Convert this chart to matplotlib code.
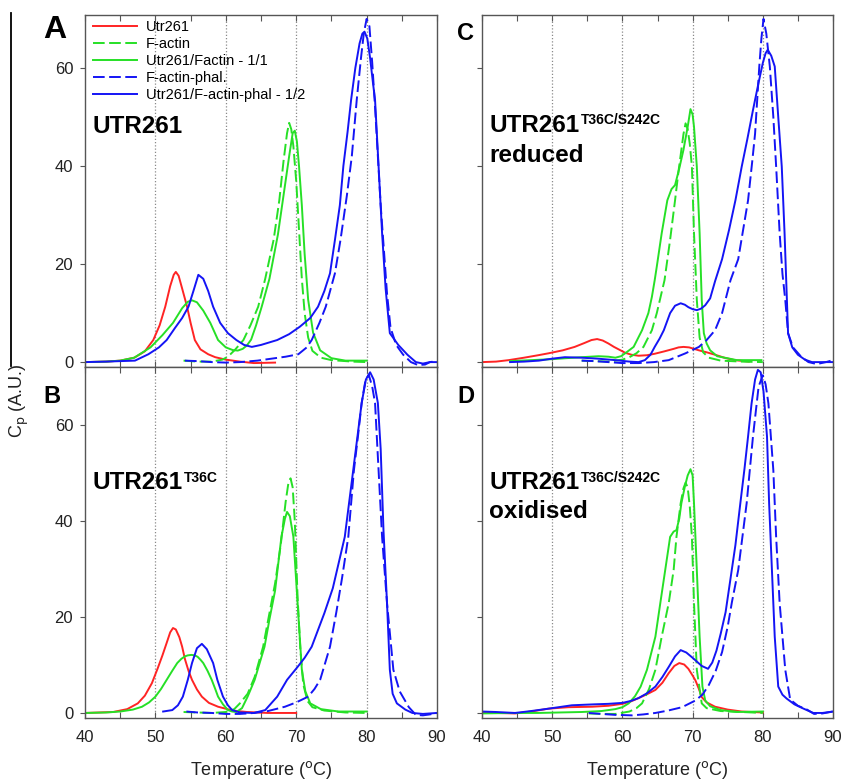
import matplotlib
matplotlib.use("Agg")
import matplotlib.pyplot as plt
from matplotlib.lines import Line2D

plt.rcParams['font.family'] = ['Liberation Sans', 'DejaVu Sans']

# ---------------- data (Temperature in °C, Cp in A.U.) ----------------
series_labels = ["Utr261", "F-actin", "Utr261/Factin - 1/1", "F-actin-phal.", "Utr261/F-actin-phal - 1/2"]

# Panel A : UTR261
A_utr_x = [40, 43, 45, 47, 48.5, 49.7, 50.6, 51.4, 52.1, 52.6, 52.9, 53.3, 53.8, 54.5, 55.0, 55.6, 56.4, 57.5, 58.5, 60, 62, 64, 67]
A_utr_y = [0, 0.1, 0.3, 0.9, 2.2, 4.5, 7.5, 11.3, 15.5, 17.8, 18.4, 17.6, 15, 11.3, 8, 4.5, 2.6, 1.6, 1.0, 0.5, 0.1, -0.2, -0.1]
A_fact_x = [54, 56, 58, 59.5, 60.3, 61.3, 62.5, 63.5, 64.6, 65.6, 66.8, 67.6, 68.2, 68.7, 69.0, 69.3, 69.6, 70.0, 70.4, 70.8, 71.2, 71.7, 72.3, 73.5, 75, 78, 80]
A_fact_y = [0.3, 0.1, 0.1, 0.5, 1.1, 2.5, 4.5, 7.5, 11.3, 17, 25, 33, 41, 46.7, 48.8, 47.5, 44, 37, 27, 17, 10, 5, 2.3, 0.9, 0.4, 0.1, 0]
A_mix_x = [40, 43, 45, 47, 49.3, 51, 52.5, 53.8, 54.6, 55.2, 55.9, 56.8, 57.8, 58.9, 60, 61, 61.7, 62.4, 63.0, 63.6, 64.3, 65.1, 66.2, 67.4, 68.3, 69.0, 69.5, 69.8, 70.1, 70.4, 70.8, 71.2, 71.7, 72.4, 73.4, 75, 77, 80]
A_mix_y = [0, 0.1, 0.3, 0.9, 3, 5.5, 8, 11, 12.3, 12.6, 12.2, 10.5, 8, 4.5, 3, 2.45, 2.35, 2.7, 3.4, 4.6, 7.5, 11.3, 17, 26, 35, 42, 46.7, 47.2, 45, 40, 32, 22, 12.7, 6, 2.4, 0.8, 0.3, 0.3]
A_phal_x = [54.2, 56, 58, 60, 62, 64.5, 66.5, 68.5, 70.3, 71.5, 72.2, 73.3, 74.2, 75.5, 76.3, 77.2, 77.9, 78.6, 79.2, 79.6, 80.0, 80.4, 80.8, 81.2, 81.6, 82.0, 82.4, 82.9, 83.4, 84.2, 85.2, 86.3, 87.3, 88.3, 89, 90]
A_phal_y = [0.3, 0.2, 0, -0.1, 0, 0.3, 0.7, 1.1, 1.6, 3, 4.5, 8, 11.3, 18.1, 25, 34, 42, 53.5, 62, 67, 70, 68.5, 61, 52, 42, 32, 24, 14, 7, 3.5, 1.5, 0, -0.6, -0.5, 0, 0.2]
A_mixphal_x = [40, 43, 45, 47.1, 49, 50.5, 51.6, 52.8, 53.8, 54.7, 55.4, 56.1, 56.8, 57.5, 58.2, 59.2, 60.3, 61.5, 62.6, 63.7, 65, 67.3, 69, 70.5, 72, 73.1, 74, 74.8, 75.5, 76.2, 76.7, 77.3, 77.8, 78.4, 79.0, 79.4, 79.7, 80.1, 80.5, 80.9, 81.2, 81.7, 82.2, 82.7, 83.3, 84.5, 85.8, 87, 88, 89, 90]
A_mixphal_y = [0, 0.1, 0.2, 0.3, 1.6, 3, 4.5, 7, 9, 11.3, 14.5, 17.8, 17, 14.5, 11.3, 8, 5.9, 4.5, 3.5, 3.1, 3.5, 4.5, 5.7, 7.2, 9, 11.3, 14.5, 18.1, 24.9, 32, 40, 47, 53.5, 60, 65, 67, 67.4, 66, 62, 57, 53.5, 40, 26.3, 15, 5.9, 3.5, 1.5, 0, -0.3, 0, 0]

# Panel B : UTR261 T36C
B_utr_x = [40, 44, 46, 47.5, 48.5, 49.5, 50.3, 51.0, 51.6, 52.1, 52.5, 52.9, 53.4, 53.8, 54.2, 54.7, 55.2, 55.9, 56.6, 57.6, 58.9, 61, 63, 66, 70]
B_utr_y = [0, 0.2, 0.8, 2.0, 3.6, 6.2, 9.2, 12, 14.6, 16.8, 17.7, 17.4, 15.8, 13.8, 11.2, 8.8, 6.9, 4.9, 3.4, 2.1, 1.3, 0.5, 0.2, 0, 0]
B_fact_x = [54, 56, 58, 60, 61.2, 62, 63.1, 64.1, 65.3, 66.2, 67, 67.8, 68.5, 68.9, 69.2, 69.5, 69.8, 70.2, 70.6, 71, 71.6, 72.3, 74, 77, 80]
B_fact_y = [0.2, 0.1, 0, 0.2, 0.8, 2, 4, 7.5, 13.8, 20.8, 27, 35, 44, 48, 48.9, 47, 40, 24, 13, 6, 2.5, 1.2, 0.5, 0.1, 0]
B_mix_x = [40, 43, 45, 46.8, 48.1, 49.1, 50, 50.8, 51.6, 52.4, 53.1, 53.7, 54.2, 54.6, 55.1, 55.6, 56.0, 56.4, 56.8, 57.4, 58, 58.5, 58.9, 59.6, 60.3, 60.9, 61.5, 62.3, 63.1, 64.1, 65.5, 66.2, 67.0, 67.9, 68.4, 68.7, 69.1, 69.6, 70.2, 70.8, 71.3, 72, 73.5, 76, 80]
B_mix_y = [0, 0.1, 0.3, 0.7, 1.3, 2.2, 3.4, 5.0, 6.9, 8.8, 10.4, 11.3, 11.8, 12.0, 12.1, 12.0, 11.7, 11.1, 10.4, 8.8, 6.9, 5.0, 3.4, 1.8, 0.6, 0.3, 0.2, 1, 3.4, 6.9, 13.8, 19.5, 25.5, 36.7, 40.5, 41.9, 41, 36.7, 22.9, 9, 4.5, 2, 0.8, 0.3, 0.3]
B_phal_x = [54.4, 56, 58, 60, 62, 64, 66, 68.4, 70, 71.7, 72.6, 73.4, 74.8, 75.7, 76.5, 77.4, 78.2, 78.8, 79.3, 79.8, 80.3, 80.8, 81.2, 81.7, 82.2, 82.9, 83.8, 84.7, 86, 87, 88, 89, 90]
B_phal_y = [0.3, 0.1, 0, -0.2, -0.2, 0, 0.4, 1.3, 2.2, 3.4, 5, 6.9, 13.8, 21, 28, 36.7, 50.6, 58, 64.6, 69, 70.5, 68, 64.6, 50.6, 36.7, 22.9, 9, 4.5, 1.2, -0.4, -0.5, -0.3, 0]
B_mixphal_x = [51.1, 52.4, 53.2, 53.9, 54.6, 55.2, 55.9, 56.6, 57.3, 58.2, 58.8, 59.6, 60.3, 60.9, 62, 64, 65.6, 67.3, 68.7, 70.2, 71.2, 72.2, 74.0, 75.2, 76.9, 78.1, 79.3, 79.9, 80.5, 81.0, 81.6, 82.0, 82.4, 82.9, 83.3, 83.7, 84.3, 85.5, 86.5, 88, 90]
B_mixphal_y = [0.3, 0.6, 1.6, 3.4, 6.9, 10.4, 13.5, 14.4, 13.3, 10.4, 6.9, 3.4, 1.6, 0.6, 0.1, 0, 0.6, 3.4, 6.9, 9.6, 11.5, 13.8, 20.8, 26, 36.7, 50.6, 64.6, 69.5, 71, 69.5, 64.6, 55, 38, 22.9, 9, 4, 2, 0.7, 0, -0.2, 0]

# Panel C : UTR261 T36C/S242C reduced
C_utr_x = [40, 42, 43.8, 46, 48, 49.5, 51.5, 53.2, 54.6, 55.6, 56.4, 57.2, 58, 58.8, 59.6, 60.4, 61.3, 62.3, 63.5, 64.6, 66, 67.3, 68.0, 68.7, 69.5, 70.9, 72, 73.2, 74.5, 76, 78]
C_utr_y = [0, 0.1, 0.4, 0.9, 1.4, 1.8, 2.4, 3.1, 3.9, 4.5, 4.7, 4.4, 3.8, 3.1, 2.5, 1.9, 1.5, 1.3, 1.4, 1.7, 2.2, 2.7, 3.0, 3.1, 3.0, 2.4, 2.0, 1.5, 0.9, 0.4, 0.1]
C_fact_x = [54.2, 56, 58, 60, 61, 62, 63.0, 64.2, 64.9, 66.0, 66.8, 67.5, 68.0, 68.4, 68.7, 69.0, 69.3, 69.6, 69.9, 70.2, 70.6, 71.0, 71.5, 72.3, 74, 77, 80]
C_fact_y = [0.3, 0.2, 0.1, 0.5, 1.0, 1.8, 3.1, 6.5, 10, 16.7, 25, 33, 39, 43.3, 46.5, 48.7, 47.5, 44.5, 39.9, 26.3, 12.7, 5, 2, 0.9, 0.3, 0.1, 0]
C_mix_x = [44, 47, 50, 52, 54.2, 56.6, 58, 59, 59.8, 60.4, 61.6, 62.8, 63.7, 64.2, 64.6, 64.9, 65.6, 66.4, 67, 67.5, 68.1, 68.7, 69.3, 69.7, 70.0, 70.2, 70.6, 71.0, 71.3, 71.6, 72.0, 72.5, 73.5, 76.3, 79.8]
C_mix_y = [0.2, 0.4, 0.6, 0.8, 1.0, 1.2, 1.1, 0.9, 1.2, 1.8, 3.1, 6.5, 10, 13.3, 16.7, 19.5, 26.3, 33, 35.3, 36.1, 39.5, 43.3, 48, 51.6, 50.5, 48, 39.9, 26.3, 12.7, 5.9, 3.8, 2.4, 1.2, 0.4, 0.4]
C_phal_x = [54.2, 56, 58, 60, 62.3, 64.5, 66.6, 69, 70.9, 72, 73.2, 74.2, 75.4, 76.5, 77.2, 77.9, 78.5, 78.9, 79.5, 79.8, 80.1, 80.5, 81.0, 81.5, 81.9, 82.4, 82.8, 83.2, 83.6, 84.3, 85.4, 86.5, 87.7, 89, 90]
C_phal_y = [0.3, 0.2, 0, -0.2, -0.2, 0, 0.4, 1.8, 3.1, 4.5, 6.5, 10, 16.7, 21, 27, 33, 41, 46.6, 60.3, 66, 70, 67, 60.3, 50, 39.9, 26.3, 18, 12.7, 5.9, 3, 1.2, 0, -0.4, 0, 0.4]
C_mixphal_x = [44, 46, 48.1, 50, 51.8, 54.2, 56.5, 59, 61, 62.3, 63.2, 64.0, 64.6, 65.3, 65.9, 66.8, 67.5, 68.3, 68.9, 69.4, 70.0, 70.6, 71.2, 71.8, 72.5, 73.2, 74.2, 75.2, 76.1, 77.0, 77.8, 78.6, 79.4, 80.0, 80.4, 80.7, 81.2, 81.7, 82.2, 82.7, 83.1, 83.4, 83.6, 84.2, 85, 86, 87, 88.5, 90]
C_mixphal_y = [0, 0.1, 0.3, 0.7, 1.0, 0.9, 0.7, 0.4, 0.1, 0, 0.4, 1.5, 3.1, 4.8, 6.5, 10, 11.5, 12, 11.7, 11.2, 10.8, 10.6, 10.9, 11.6, 13, 16.5, 21, 27, 33, 39.9, 45.5, 51.4, 57, 61, 63, 63.7, 62.5, 60.3, 50, 39.9, 26.3, 14, 5.9, 3, 1.5, 0.5, 0, 0, 0]

# Panel D : UTR261 T36C/S242C oxidised
D_utr_x = [40, 42, 44.7, 47, 49.5, 52.3, 55.7, 58, 60, 61.2, 62.3, 63.5, 64.7, 65.7, 66.6, 67.4, 68.1, 68.8, 69.4, 70.0, 70.4, 70.9, 71.3, 72.0, 73.2, 75, 77, 80]
D_utr_y = [0, 0, -0.1, 0.3, 0.9, 1.2, 1.3, 1.5, 1.9, 2.4, 3.1, 3.9, 4.8, 6.3, 8.3, 9.8, 10.4, 10.1, 9.2, 7.8, 6.8, 5, 3.3, 2.2, 1.3, 0.7, 0.3, 0.1]
D_fact_x = [55.2, 57, 59, 61, 62, 62.8, 63.8, 64.7, 65.6, 66.6, 67.3, 67.7, 68.3, 68.7, 69.0, 69.3, 69.6, 69.9, 70.2, 70.6, 71.3, 72, 74, 77, 80]
D_fact_y = [-0.1, -0.2, -0.2, 0.3, 1, 2, 5, 9, 15.9, 22.9, 29.8, 36.7, 43.7, 46.8, 48, 47, 43, 36.7, 22.9, 9, 2, 1, 0.4, 0.2, 0]
D_mix_x = [40, 44, 48, 51, 54.2, 57, 59, 60, 60.9, 61.8, 62.6, 63.5, 64.7, 65.4, 66.1, 66.8, 67.3, 67.7, 68.1, 68.4, 68.9, 69.3, 69.7, 70.0, 70.2, 70.6, 71.0, 71.4, 71.8, 72.5, 74, 76.3, 80]
D_mix_y = [-0.1, 0, 0, 0.1, 0.2, 0.4, 0.8, 1.2, 2, 3.5, 5.5, 9, 15.9, 22.9, 29.8, 36.7, 37.8, 38.1, 40.5, 43.7, 47.2, 49.5, 50.8, 49.5, 43.7, 29.8, 15.9, 5.5, 2.6, 1.4, 0.6, 0.2, 0.3]
D_phal_x = [55.2, 57, 59, 61.4, 63, 64.7, 66.5, 68.5, 70.4, 71.4, 72.3, 73.3, 74.2, 75.0, 75.6, 76.5, 77.7, 78.6, 79.4, 80.0, 80.4, 80.8, 81.5, 81.9, 82.4, 83.2, 83.9, 85, 86.3, 87.3, 88.5, 90]
D_phal_y = [0, -0.2, -0.4, -0.5, -0.3, 0, 0.5, 1.2, 2.6, 3.8, 5.8, 8.8, 12.7, 18, 23.1, 29.8, 43.7, 57.6, 68, 70.4, 68.5, 64.5, 50.6, 36.7, 22.9, 9, 2.8, 1.5, 0.7, -0.2, -0.1, 0.3]
D_mixphal_x = [40, 42, 44.7, 47, 49.5, 52.8, 56, 58, 60, 61.2, 62.3, 63.5, 64.7, 65.7, 66.6, 67.5, 68.3, 69.1, 70, 71.3, 72.2, 72.8, 73.4, 74.0, 74.7, 75.4, 76.1, 76.8, 77.4, 77.9, 78.4, 78.9, 79.3, 79.7, 80.1, 80.6, 80.9, 81.3, 81.7, 82.2, 82.8, 83.4, 84.5, 85.8, 87.2, 88.5, 90]
D_mixphal_y = [0.3, 0.2, 0, 0.4, 0.9, 1.6, 1.8, 1.9, 2.1, 2.5, 3.1, 4.1, 5.5, 7.5, 9.6, 11.8, 13.1, 12.6, 11.5, 9.8, 9.2, 10.5, 13, 16.5, 21, 28, 35, 43.7, 51, 57.6, 64.5, 69.5, 71.5, 71, 67, 57.6, 43.7, 29.8, 15.9, 5.5, 3.8, 3.0, 1.8, 0.9, 0, 0, 0.3]

panel_letters = ["A", "B", "C", "D"]
x_ticks = [40, 50, 60, 70, 80, 90]
y_ticks = [0, 20, 40, 60]

# ---------------- styling ----------------
RED, GREEN, BLUE = '#ff2424', '#26e026', '#1414f5'
DASH = (0, (6, 2.3))
styles = [dict(color=RED, ls='-'), dict(color=GREEN, ls=DASH), dict(color=GREEN, ls='-'),
          dict(color=BLUE, ls=DASH), dict(color=BLUE, ls='-')]

panels = {
    "A": [(A_utr_x, A_utr_y), (A_fact_x, A_fact_y), (A_mix_x, A_mix_y), (A_phal_x, A_phal_y), (A_mixphal_x, A_mixphal_y)],
    "B": [(B_utr_x, B_utr_y), (B_fact_x, B_fact_y), (B_mix_x, B_mix_y), (B_phal_x, B_phal_y), (B_mixphal_x, B_mixphal_y)],
    "C": [(C_utr_x, C_utr_y), (C_fact_x, C_fact_y), (C_mix_x, C_mix_y), (C_phal_x, C_phal_y), (C_mixphal_x, C_mixphal_y)],
    "D": [(D_utr_x, D_utr_y), (D_fact_x, D_fact_y), (D_mix_x, D_mix_y), (D_phal_x, D_phal_y), (D_mixphal_x, D_mixphal_y)],
}

W, H = 843, 782
fig = plt.figure(figsize=(W / 100, H / 100), dpi=100)

def rect(l, t, r, b):
    return [l / W, 1 - b / H, (r - l) / W, (b - t) / H]

rects = {"A": rect(85, 15, 437, 367), "B": rect(85, 367, 437, 718),
         "C": rect(482, 15, 833, 367), "D": rect(482, 367, 833, 718)}
ylims = {"A": (-1.0, 70.8), "C": (-1.0, 70.8), "B": (-1.05, 72.1), "D": (-1.05, 72.1)}

axes = {}
for key in panel_letters:
    ax = fig.add_axes(rects[key])
    axes[key] = ax
    for g in [50, 60, 70, 80]:
        ax.axvline(g, color='#8a8a8a', lw=0.9, ls=(0, (1, 1.6)), zorder=0)
    for (xs, ys), st, lab in zip(panels[key], styles, series_labels):
        ax.plot(xs, ys, color=st['color'], ls=st['ls'], lw=1.4, label=lab,
                solid_joinstyle='round', dash_joinstyle='round')
    ax.set_xlim(40, 90)
    ax.set_ylim(*ylims[key])
    ax.set_xticks(x_ticks)
    ax.set_xticks([45, 55, 65, 75, 85], minor=True)
    ax.set_yticks(y_ticks)
    ax.tick_params(axis='x', which='both', direction='in', top=True, bottom=True,
                   length=4.5, width=0.8, color='#555555', labelsize=12, pad=9, labelcolor='#222222')
    ax.tick_params(axis='y', which='both', direction='out', left=True, right=False,
                   length=3.5, width=0.8, color='#555555', labelsize=12, pad=5, labelcolor='#222222')
    for sp in ax.spines.values():
        sp.set_color('#555555')
        sp.set_linewidth(1.0)
    if key in ("A", "C"):
        ax.tick_params(axis='x', labelbottom=False)
    else:
        ax.set_xlabel('Temperature ($^{\\rm o}$C)', fontsize=13, labelpad=10, color='#222222')
    if key in ("C", "D"):
        ax.tick_params(axis='y', labelleft=False)

# legend in A
leg = axes["A"].legend(loc='upper left', bbox_to_anchor=(0.024, 0.985), frameon=False, fontsize=10.5,
                       handlelength=3.0, handletextpad=0.6, labelspacing=0.2,
                       borderpad=0, borderaxespad=0)

# panel titles
def title(ax, main, sup, y, second=None, y2=None):
    t = ax.text(0.02, y, main, transform=ax.transAxes, fontsize=17.5, fontweight='bold',
                ha='left', va='baseline', color='black')
    if sup:
        ax.annotate(sup, xy=(1, 1), xycoords=t, xytext=(1.5, 0.5), textcoords='offset points',
                    fontsize=10, fontweight='bold', ha='left', va='top', color='black')
    if second:
        ax.text(0.02, y2, second, transform=ax.transAxes, fontsize=17.5, fontweight='bold',
                ha='left', va='baseline', color='black')

title(axes["A"], "UTR261", None, 0.666)
title(axes["B"], "UTR261", "T36C", 0.651)
title(axes["C"], "UTR261", "T36C/S242C", 0.669, "reduced", 0.581)
title(axes["D"], "UTR261", "T36C/S242C", 0.651, "oxidised", 0.569)

# panel letters
fig.text(43 / W, 1 - 38 / H, "A", fontsize=23, fontweight='bold', ha='left', va='baseline')
fig.text(43 / W, 1 - 403 / H, "B", fontsize=17, fontweight='bold', ha='left', va='baseline')
fig.text(457 / W, 1 - 40 / H, "C", fontsize=17, fontweight='bold', ha='left', va='baseline')
fig.text(457 / W, 1 - 403 / H, "D", fontsize=17, fontweight='bold', ha='left', va='baseline')

# y label
fig.text(19 / W, 1 - 401 / H, "C$_{\\rm p}$ (A.U.)", rotation=90, fontsize=13,
         ha='center', va='center', color='#222222')

# stray vertical rule at left
fig.add_artist(Line2D([11 / W, 11 / W], [1 - 13 / H, 1 - 366 / H], transform=fig.transFigure,
                      color='black', lw=1.3))

fig.savefig("out.png", dpi=100)
